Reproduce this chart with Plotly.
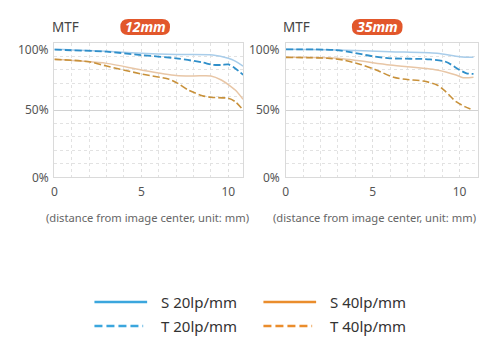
import plotly.graph_objects as go

W, H = 500, 351

# ---- data (distance from centre in mm, MTF in %) ----
x12_s20 = [0, 3, 5, 7, 9.1, 10, 10.4, 10.85]
y12_s20 = [95.3, 93.8, 92.3, 91.4, 91.0, 88.6, 86.5, 82.8]
x12_t20 = [0, 3, 5, 7, 8.5, 9.1, 9.6, 10, 10.4, 10.85]
y12_t20 = [95.0, 93.5, 91.0, 88.6, 85.5, 83.8, 83.6, 84.0, 81.0, 76.3]
x12_s40 = [0, 3, 5, 7, 8, 9, 9.6, 10, 10.4, 10.85]
y12_s40 = [87.8, 84.8, 79.9, 75.8, 75.4, 75.4, 72.4, 69.0, 64.9, 58.0]
x12_t40 = [0, 2, 3, 5, 6.6, 7.1, 7.7, 8.5, 9, 10, 10.4, 10.85]
y12_t40 = [87.8, 86.0, 82.8, 76.9, 72.9, 69.9, 64.9, 60.7, 59.5, 58.7, 56.2, 50.0]

x35_s20 = [0, 2.95, 6, 8.7, 10, 10.8]
y35_s20 = [95.3, 94.8, 93.5, 92.3, 89.8, 89.3]
x35_t20 = [0, 2.8, 3.8, 4.9, 6, 8.3, 9.2, 10, 10.4, 10.8]
y35_t20 = [95.3, 94.8, 93.0, 90.3, 88.6, 87.8, 86.0, 79.9, 77.4, 76.9]
x35_s40 = [0, 2.95, 6, 8.7, 9.8, 10.2, 10.8]
y35_s40 = [89.3, 88.6, 83.6, 79.9, 76.1, 74.1, 74.4]
x35_t40 = [0, 2.4, 3.3, 4.3, 5.2, 6.2, 6.9, 7.9, 8.7, 9.2, 9.8, 10.3, 10.8]
y35_t40 = [89.3, 88.6, 87.3, 84.0, 79.9, 74.4, 72.9, 71.6, 68.7, 63.7, 56.2, 52.5, 50.0]

panel_titles = ["12mm", "35mm"]
y_tick_vals = [0, 50, 100]
y_tick_text = ["0%", "50%", "100%"]
x_tick_vals = [0, 5, 10]
x_title = "(distance from image center, unit: mm)"
legend_names = ["S 20lp/mm", "S 40lp/mm", "T 20lp/mm", "T 40lp/mm"]

C_S20 = "#a9cdea"
C_T20 = "#2f8fca"
C_S40 = "#e8c6a6"
C_T40 = "#c8913a"
LEG_BLUE = "#3ba6dd"
LEG_ORANGE = "#ea8d2c"

FONT = "Noto Sans"
CHART_DASH = "7px,3px"
LEG_DASH = "8px,4px"

fig = go.Figure()

def add(xs, ys, color, dash, width, xa, ya):
    fig.add_trace(go.Scatter(x=xs, y=ys, mode="lines", line=dict(color=color, dash=dash, width=width, shape="spline", smoothing=0.8),
                             xaxis=xa, yaxis=ya, showlegend=False, hoverinfo="skip"))

add(x12_s20, y12_s20, C_S20, "solid", 1.5, "x", "y")
add(x12_s40, y12_s40, C_S40, "solid", 1.5, "x", "y")
add(x12_t20, y12_t20, C_T20, CHART_DASH, 1.8, "x", "y")
add(x12_t40, y12_t40, C_T40, CHART_DASH, 1.6, "x", "y")
add(x35_s20, y35_s20, C_S20, "solid", 1.5, "x2", "y2")
add(x35_s40, y35_s40, C_S40, "solid", 1.5, "x2", "y2")
add(x35_t20, y35_t20, C_T20, CHART_DASH, 1.8, "x2", "y2")
add(x35_t40, y35_t40, C_T40, CHART_DASH, 1.6, "x2", "y2")

def px(v):
    return v / W

def py(v):
    return 1 - v / H

ydom = [py(177), py(43)]
xdom1 = [px(51.7), px(241.7)]
xdom2 = [px(284.5), px(477.7)]

axis_common = dict(showline=True, linecolor="#dadada", linewidth=1, mirror=True, zeroline=False,
                   ticks="", tickfont=dict(family=FONT, size=12, color="#555555"))

xa = dict(axis_common, tickvals=x_tick_vals, ticklabelstandoff=4, showgrid=True, gridcolor="#dedede", griddash="dot", gridwidth=1,
          minor=dict(dtick=1, tick0=0, showgrid=True, gridcolor="#e2e2e2", griddash="dot", gridwidth=1))
ya = dict(axis_common, range=[0, 100], tickvals=y_tick_vals, showticklabels=False, showgrid=True,
          gridcolor="#d2d2d2", gridwidth=1,
          minor=dict(dtick=10, tick0=0, showgrid=True, gridcolor="#e2e2e2", griddash="dot", gridwidth=1))

fig.update_layout(
    width=W, height=H, margin=dict(l=0, r=0, t=0, b=0),
    paper_bgcolor="white", plot_bgcolor="white", showlegend=False,
    xaxis=dict(xa, domain=xdom1, range=[0, 10.86], anchor="y"),
    yaxis=dict(ya, domain=ydom, anchor="x"),
    xaxis2=dict(xa, domain=xdom2, range=[0, 11.05], anchor="y2"),
    yaxis2=dict(ya, domain=ydom, anchor="x2"),
)

ann = []
shapes = []
# y tick labels
for right_px in [48, 281]:
    for v, t in zip(y_tick_vals, y_tick_text):
        ypix = 177 - v * 1.34 + (6 if v == 100 else 0)
        ann.append(dict(x=px(right_px), y=py(ypix), xref="paper", yref="paper", text=t, showarrow=False,
                        xanchor="right", yanchor="middle", font=dict(family=FONT, size=12, color="#555555")))

# MTF labels, badges, x titles
for mtf_x, badge_l, badge_r, title, xt in [(47, 118, 168, panel_titles[0], 145), (280, 351, 402, panel_titles[1], 374)]:
    ann.append(dict(x=px(mtf_x), y=py(27), xref="paper", yref="paper", text="MTF", showarrow=False,
                    xanchor="left", yanchor="middle", font=dict(family=FONT, size=13.5, color="#444444")))
    t, b = 19, 35
    r = 8
    x0, x1 = px(badge_l), px(badge_r)
    y0, y1 = py(b), py(t)
    rx, ry = r / W, r / H
    path = (f"M {x0+rx},{y0} L {x1-rx},{y0} Q {x1},{y0} {x1},{y0+ry} L {x1},{y1-ry} Q {x1},{y1} {x1-rx},{y1} "
            f"L {x0+rx},{y1} Q {x0},{y1} {x0},{y1-ry} L {x0},{y0+ry} Q {x0},{y0} {x0+rx},{y0} Z")
    shapes.append(dict(type="path", path=path, xref="paper", yref="paper", fillcolor="#e2572b", line=dict(width=0)))
    ann.append(dict(x=px((badge_l + badge_r) / 2), y=py(27), xref="paper", yref="paper",
                    text=f"<b><i>{title}</i></b>", showarrow=False, xanchor="center", yanchor="middle",
                    font=dict(family=FONT, size=14, color="white")))
    ann.append(dict(x=px(xt), y=py(217), xref="paper", yref="paper", text=x_title, showarrow=False,
                    xanchor="center", yanchor="middle", font=dict(family=FONT, size=11.2, color="#666666")))

# legend
leg = [
    (92, 145, 302, LEG_BLUE, "solid", legend_names[0], 157),
    (262, 315, 302, LEG_ORANGE, "solid", legend_names[1], 327),
    (92, 141, 326, LEG_BLUE, LEG_DASH, legend_names[2], 157),
    (262, 311, 326, LEG_ORANGE, LEG_DASH, legend_names[3], 327),
]
for l, r_, yy, c, d, name, tx in leg:
    shapes.append(dict(type="line", xref="paper", yref="paper", x0=px(l), x1=px(r_), y0=py(yy), y1=py(yy),
                       line=dict(color=c, width=2.5, dash=d)))
    ann.append(dict(x=px(tx), y=py(yy), xref="paper", yref="paper", text=name, showarrow=False,
                    xanchor="left", yanchor="middle", font=dict(family=FONT, size=15, color="#333333")))

fig.update_layout(annotations=ann, shapes=shapes)
fig.write_html("out.html")
